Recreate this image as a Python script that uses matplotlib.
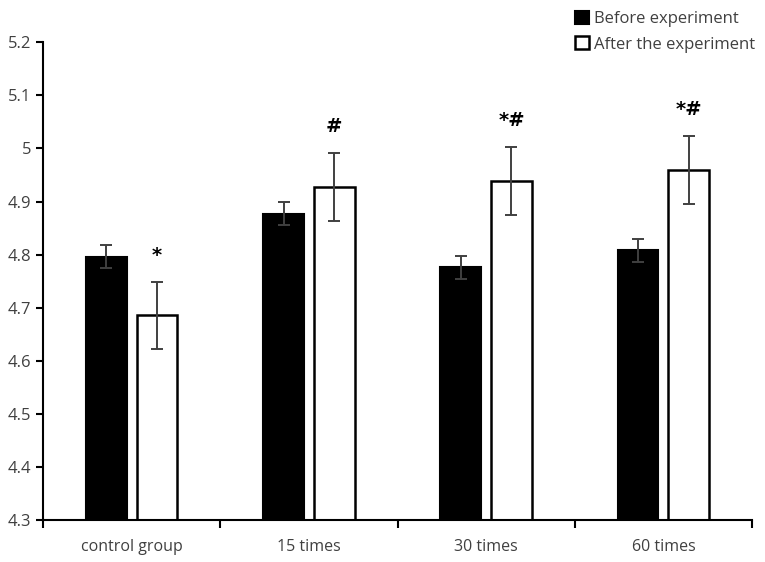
import matplotlib
matplotlib.use("Agg")
import matplotlib.pyplot as plt
import numpy as np

categories = ["control group", "15 times", "30 times", "60 times"]
before = [4.796, 4.877, 4.776, 4.808]
before_err = [0.022, 0.022, 0.022, 0.022]
after = [4.686, 4.928, 4.938, 4.959]
after_err = [0.063, 0.064, 0.064, 0.064]
marks = ["*", "#", "*#", "*#"]

plt.rcParams['font.family'] = ['Open Sans', 'DejaVu Sans']

fig = plt.figure(figsize=(7.65, 5.62), dpi=100)
ax = fig.add_axes([0.0563, 0.0747, 0.9267, 0.85])

x = np.arange(len(categories))
bar_width = 0.23
offset = 0.143

ax.bar(x - offset, before, bar_width, color='black', edgecolor='black',
       linewidth=1.5, label='Before experiment', zorder=2)
ax.bar(x + offset, after, bar_width, color='white', edgecolor='black',
       linewidth=1.8, label='After the experiment', zorder=2)
ax.errorbar(x - offset, before, yerr=before_err, fmt='none', ecolor='#404040',
            elinewidth=1.4, capsize=4, capthick=1.4, zorder=3)
ax.errorbar(x + offset, after, yerr=after_err, fmt='none', ecolor='#404040',
            elinewidth=1.4, capsize=4, capthick=1.4, zorder=3)

# significance marks above the after bars
for i in range(len(categories)):
    ax.text(x[i] + offset, after[i] + after_err[i] + 0.05, marks[i], ha='center', va='center',
            fontsize=14, fontweight='bold', family=['DejaVu Sans'])

ax.set_ylim(4.3, 5.2)
ax.set_xlim(-0.5, 3.5)
ax.set_yticks(np.arange(4.3, 5.21, 0.1))
ax.set_yticklabels(["4.3", "4.4", "4.5", "4.6", "4.7", "4.8", "4.9", "5", "5.1", "5.2"])
ax.set_xticks(np.arange(-0.5, 3.6, 1))
ax.set_xticklabels([])
ax.set_xticks(x, minor=True)
ax.set_xticklabels(categories, minor=True)
ax.tick_params(axis='x', which='major', length=6, width=1.5, direction='out')
ax.tick_params(axis='x', which='minor', length=0, pad=14, labelsize=11.5, labelcolor='#404040')
ax.tick_params(axis='y', length=5, width=1.5, labelsize=12, labelcolor='#404040')

for s in ['top', 'right']:
    ax.spines[s].set_visible(False)
for s in ['left', 'bottom']:
    ax.spines[s].set_linewidth(1.5)

fig.legend(loc='upper left', bbox_to_anchor=(0.7315, 1.008), frameon=False, fontsize=12,
           handlelength=0.85, handleheight=0.85, handletextpad=0.3, labelspacing=0.55,
           labelcolor='#404040')

fig.savefig("out.png", dpi=100)
